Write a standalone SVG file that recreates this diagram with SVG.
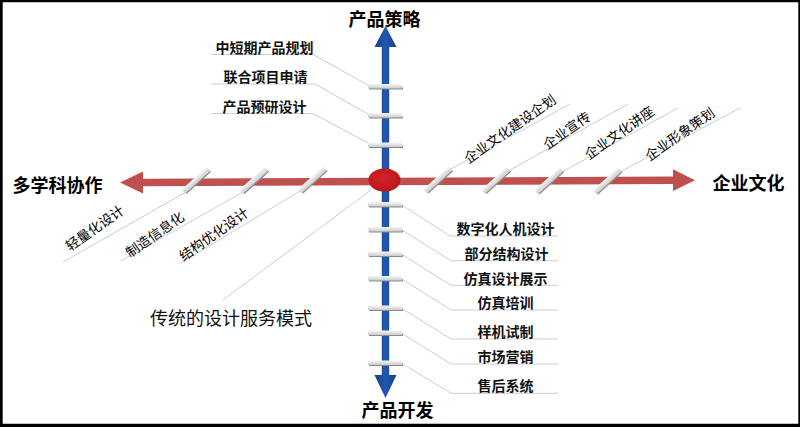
<svg xmlns="http://www.w3.org/2000/svg" xmlns:xlink="http://www.w3.org/1999/xlink" width="800" height="427" viewBox="0 0 800 427">
<style>
.axis{font-family:"Noto Sans CJK SC","Liberation Sans",sans-serif;font-size:18px;font-weight:bold;fill:#000}
.lab{font-family:"Noto Sans CJK SC","Liberation Sans",sans-serif;font-size:14px;font-weight:bold;fill:#111;text-anchor:middle}
.rot{font-family:"Noto Sans CJK SC","Liberation Sans",sans-serif;font-size:13.5px;fill:#000}
.big{font-family:"Noto Sans CJK SC","Liberation Sans",sans-serif;font-size:18px;fill:#111;text-anchor:middle}
.con{fill:none;stroke:#cdcdcd;stroke-width:1}
</style>
<defs>
<linearGradient id="gTick" x1="0" y1="0" x2="0" y2="1">
<stop offset="0" stop-color="#f6f6f6"/>
<stop offset="1" stop-color="#cbcbcb"/>
</linearGradient>
<linearGradient id="gBlue" x1="0" y1="0" x2="1" y2="0">
<stop offset="0" stop-color="#17418a"/>
<stop offset="0.5" stop-color="#2158b0"/>
<stop offset="1" stop-color="#17418a"/>
</linearGradient>
<radialGradient id="gRed" cx="0.45" cy="0.4" r="0.65">
<stop offset="0" stop-color="#d4222a"/>
<stop offset="1" stop-color="#b8141b"/>
</radialGradient>
<g id="tick">
<rect x="1" y="3.5" width="34" height="2" fill="#8a8a8a"/>
<rect x="0" y="0" width="34" height="4.5" fill="url(#gTick)"/>
</g>
<g id="slash">
<rect x="-16" y="1.5" width="33" height="2.2" fill="#8a8a8a"/>
<rect x="-17" y="-3" width="34" height="5.5" fill="url(#gTick)"/>
</g>
</defs>
<rect x="0" y="0" width="800" height="427" fill="#fff"/>
<path d="M0 0H800V427H0Z M2.7 2.3V423.7H798.3V2.3Z" fill="#000" fill-rule="evenodd"/>

<g id="connectors">
<polyline class="con" points="211,54.5 313,54.5 368,85"/>
<polyline class="con" points="211,84 315,84 368,114"/>
<polyline class="con" points="211,113.5 313,113.5 368,143"/>
<polyline class="con" points="402,205 450,236 558,236"/>
<polyline class="con" points="402,230 451,260.7 558,260.7"/>
<polyline class="con" points="402,254.5 451,285.3 558,285.3"/>
<polyline class="con" points="402,279 451,310 558,310"/>
<polyline class="con" points="402,308.5 451,339 558,339"/>
<polyline class="con" points="402,333.5 451,364 558,364"/>
<polyline class="con" points="402,363.5 451,393.3 558,393.3"/>
<line class="con" x1="451" y1="169" x2="570" y2="104"/>
<line class="con" x1="510" y1="170" x2="628" y2="104"/>
<line class="con" x1="562" y1="172" x2="678" y2="108"/>
<line class="con" x1="620" y1="172" x2="740" y2="108"/>
<line class="con" x1="186" y1="192" x2="63" y2="262"/>
<line class="con" x1="243" y1="192" x2="121" y2="261"/>
<line class="con" x1="300" y1="191" x2="181" y2="263"/>
<line class="con" x1="371" y1="190" x2="223" y2="300"/>
</g>

<g id="axis-vertical">
<polygon points="385.5,26 396.5,47 389.2,47 389.2,375 396.5,375 385.5,398 374.5,375 381.8,375 381.8,47 374.5,47" fill="url(#gBlue)"/>
</g>
<g id="axis-horizontal">
<polygon points="120,182.5 143,171.5 143,178.7 673,176.6 673,169.3 695,180.2 673,191.1 673,184 143,186.2 143,193.4" fill="#c0504d"/>
</g>

<g id="ticks">
<use xlink:href="#tick" x="368" y="84"/>
<use xlink:href="#tick" x="368" y="113"/>
<use xlink:href="#tick" x="368" y="142.5"/>
<use xlink:href="#tick" x="368" y="202"/>
<use xlink:href="#tick" x="368" y="227"/>
<use xlink:href="#tick" x="368" y="251.5"/>
<use xlink:href="#tick" x="368" y="276"/>
<use xlink:href="#tick" x="368" y="305.5"/>
<use xlink:href="#tick" x="368" y="330.5"/>
<use xlink:href="#tick" x="368" y="360.5"/>
<use xlink:href="#slash" transform="translate(196,180.5) rotate(-42)"/>
<use xlink:href="#slash" transform="translate(254,180.5) rotate(-42)"/>
<use xlink:href="#slash" transform="translate(312.5,180) rotate(-42)"/>
<use xlink:href="#slash" transform="translate(438,180) rotate(-42)"/>
<use xlink:href="#slash" transform="translate(496,180.5) rotate(-42)"/>
<use xlink:href="#slash" transform="translate(549,181) rotate(-42)"/>
<use xlink:href="#slash" transform="translate(607.5,181) rotate(-42)"/>
</g>

<g id="center">
<ellipse cx="384.5" cy="180" rx="16" ry="11.6" fill="url(#gRed)"/>
</g>

<g id="n-product-strategy"><text class="axis" x="384.5" y="26" text-anchor="middle">产品策略</text></g>
<g id="n-product-dev"><text class="axis" x="397.5" y="417" text-anchor="middle">产品开发</text></g>
<g id="n-multi"><text class="axis" x="12.5" y="192">多学科协作</text></g>
<g id="n-culture"><text class="axis" x="712.5" y="190">企业文化</text></g>

<g id="n-t1"><text class="lab" x="264.5" y="52.5">中短期产品规划</text></g>
<g id="n-t2"><text class="lab" x="265.5" y="82">联合项目申请</text></g>
<g id="n-t3"><text class="lab" x="264.5" y="111.5">产品预研设计</text></g>

<g id="n-b1"><text class="lab" x="505.5" y="234">数字化人机设计</text></g>
<g id="n-b2"><text class="lab" x="506.5" y="258.8">部分结构设计</text></g>
<g id="n-b3"><text class="lab" x="505.5" y="283.5">仿真设计展示</text></g>
<g id="n-b4"><text class="lab" x="505.5" y="308.3">仿真培训</text></g>
<g id="n-b5"><text class="lab" x="505.5" y="337">样机试制</text></g>
<g id="n-b6"><text class="lab" x="505.5" y="362">市场营销</text></g>
<g id="n-b7"><text class="lab" x="505.5" y="390.5">售后系统</text></g>

<g id="n-r1"><text class="rot" transform="translate(468.5,164) rotate(-35)">企业文化建设企划</text></g>
<g id="n-r2"><text class="rot" transform="translate(547.5,150) rotate(-35)">企业宣传</text></g>
<g id="n-r3"><text class="rot" transform="translate(589,160) rotate(-35)">企业文化讲座</text></g>
<g id="n-r4"><text class="rot" transform="translate(649.5,161.5) rotate(-35)">企业形象策划</text></g>

<g id="n-l1"><text class="rot" transform="translate(70,251.5) rotate(-35)">轻量化设计</text></g>
<g id="n-l2"><text class="rot" transform="translate(130,258) rotate(-35)">制造信息化</text></g>
<g id="n-l3"><text class="rot" transform="translate(183.5,261.5) rotate(-35)">结构优化设计</text></g>

<g id="n-traditional"><text class="big" x="231" y="325">传统的设计服务模式</text></g>
</svg>
